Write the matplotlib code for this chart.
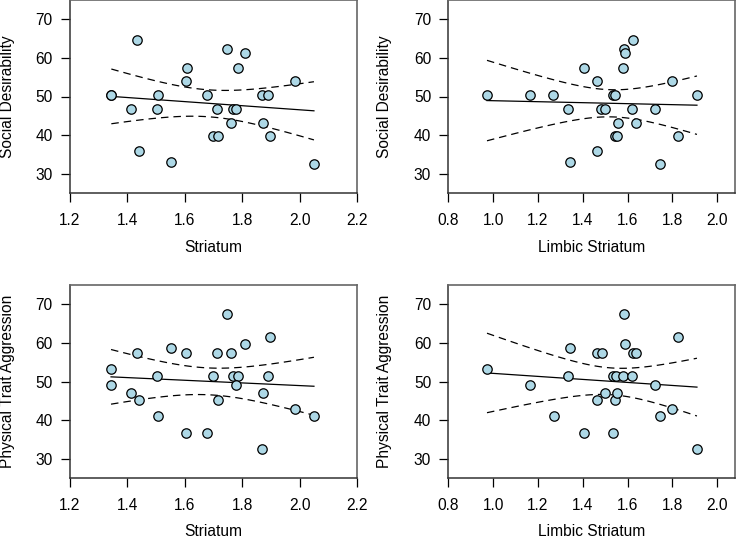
import numpy as np
import matplotlib
matplotlib.use("Agg")
import matplotlib.pyplot as plt

plt.rcParams['font.family'] = ['Liberation Sans', 'DejaVu Sans']

# striatum vs social desirability
str_x_sd = [1.344, 1.344, 1.433, 1.412, 1.441, 1.508, 1.502, 1.551, 1.606, 1.604, 1.677, 1.699, 1.716,
            1.711, 1.747, 1.762, 1.768, 1.779, 1.784, 1.811, 1.868, 1.891, 1.871, 1.897, 1.983, 2.050]
sd_y_str = [50.3, 50.3, 64.7, 46.8, 36.0, 50.3, 46.8, 33.0, 57.5, 54.0, 50.3, 39.7, 39.7,
            46.8, 62.4, 43.2, 46.8, 46.8, 57.5, 61.2, 50.3, 50.3, 43.2, 39.7, 54.0, 32.5]

# limbic striatum vs social desirability
lim_x_sd = [0.972, 1.165, 1.269, 1.335, 1.344, 1.407, 1.465, 1.465, 1.483, 1.500, 1.533, 1.542, 1.543,
            1.551, 1.557, 1.578, 1.582, 1.588, 1.619, 1.625, 1.636, 1.723, 1.744, 1.799, 1.825, 1.910]
sd_y_lim = [50.3, 50.3, 50.3, 46.8, 33.0, 57.5, 54.0, 36.0, 46.8, 46.8, 50.3, 50.3, 39.7,
            39.7, 43.2, 57.5, 62.4, 61.2, 46.8, 64.7, 43.2, 46.8, 32.5, 54.0, 39.7, 50.3]

# striatum vs physical trait aggression
str_x_pa = [1.343, 1.344, 1.412, 1.433, 1.441, 1.503, 1.508, 1.551, 1.605, 1.605, 1.677, 1.700, 1.711,
            1.717, 1.747, 1.762, 1.768, 1.785, 1.779, 1.809, 1.868, 1.871, 1.891, 1.897, 1.983, 2.050]
pa_y_str = [53.3, 49.2, 47.1, 57.5, 45.1, 51.3, 41.0, 58.7, 57.5, 36.7, 36.7, 51.3, 57.5,
            45.1, 67.4, 57.5, 51.3, 51.3, 49.2, 59.6, 32.6, 47.1, 51.3, 61.6, 43.0, 41.0]

# limbic striatum vs physical trait aggression
lim_x_pa = [0.972, 1.165, 1.270, 1.335, 1.344, 1.407, 1.465, 1.486, 1.465, 1.498, 1.536, 1.536, 1.549,
            1.545, 1.555, 1.578, 1.582, 1.588, 1.619, 1.624, 1.637, 1.723, 1.744, 1.799, 1.825, 1.910]
pa_y_lim = [53.3, 49.2, 41.0, 51.3, 58.7, 36.7, 57.5, 57.5, 45.1, 47.1, 36.7, 51.3, 51.3,
            45.1, 47.1, 51.3, 67.4, 59.6, 51.3, 57.5, 57.5, 49.2, 41.0, 43.0, 61.6, 32.6]

W, H = 737, 548
FS = 11.2


def fit_band(x, y):
    x = np.asarray(x)
    y = np.asarray(y)
    n = len(x)
    b, a = np.polyfit(x, y, 1)
    xs = np.linspace(x.min(), x.max(), 100)
    yhat = a + b * xs
    res = y - (a + b * x)
    s = np.sqrt(np.sum(res ** 2) / (n - 2))
    sxx = np.sum((x - x.mean()) ** 2)
    se = s * np.sqrt(1.0 / n + (xs - x.mean()) ** 2 / sxx)
    t = 2.064  # t(0.975, 24)
    return xs, yhat, yhat - t * se, yhat + t * se


def panel(box, x, y, xlim, xticks, xlabel, ylabel, ylab_x):
    l, r, t, b = box
    ax = fig.add_axes([l / W, 1 - b / H, (r - l) / W, (b - t) / H])
    xs, yhat, lo, hi = fit_band(x, y)
    ax.plot(xs, yhat, color='black', lw=0.9, zorder=2)
    ax.plot(xs, lo, color='black', lw=0.9, ls=(0, (6, 4)), zorder=2)
    ax.plot(xs, hi, color='black', lw=0.9, ls=(0, (6, 4)), zorder=2)
    ax.scatter(x, y, s=46, facecolor='#add8e6', edgecolor='black', linewidth=0.9, zorder=3)
    ax.set_xlim(*xlim)
    ax.set_ylim(25, 75)
    ax.set_xticks(xticks)
    ax.set_xticklabels([f'{v:.1f}' for v in xticks])
    ax.set_yticks([30, 40, 50, 60, 70])
    ax.tick_params(axis='both', direction='out', length=6.5, width=0.9,
                   labelsize=FS, colors='black')
    ax.tick_params(axis='x', pad=8)
    ax.tick_params(axis='y', pad=6)
    for side in ['top', 'right']:
        ax.spines[side].set_color('#666666')
        ax.spines[side].set_linewidth(1.2)
    for side in ['left', 'bottom']:
        ax.spines[side].set_color('#333333')
        ax.spines[side].set_linewidth(1.1)
    ax.set_xlabel(xlabel, fontsize=FS)
    ax.set_ylabel(ylabel, fontsize=FS)
    ax.xaxis.label.set_va('center')
    ax.yaxis.label.set_va('center')
    ax.xaxis.set_label_coords(0.5, -54 / (b - t))
    ax.yaxis.set_label_coords((ylab_x - l) / (r - l), 0.5)
    return ax


fig = plt.figure(figsize=(W / 100, H / 100), dpi=100)

str_ticks = [1.2, 1.4, 1.6, 1.8, 2.0, 2.2]
lim_ticks = [0.8, 1.0, 1.2, 1.4, 1.6, 1.8, 2.0]

panel((70, 357, 0, 193), str_x_sd, sd_y_str, (1.2, 2.2), str_ticks,
      'Striatum', 'Social Desirability', 8)
panel((448.5, 735, 0, 193), lim_x_sd, sd_y_lim, (0.8, 2.08), lim_ticks,
      'Limbic Striatum', 'Social Desirability', 385)
panel((70, 357, 285, 478), str_x_pa, pa_y_str, (1.2, 2.2), str_ticks,
      'Striatum', 'Physical Trait Aggression', 8)
panel((448.5, 735, 285, 478), lim_x_pa, pa_y_lim, (0.8, 2.08), lim_ticks,
      'Limbic Striatum', 'Physical Trait Aggression', 385)

fig.savefig('out.png', dpi=100)
